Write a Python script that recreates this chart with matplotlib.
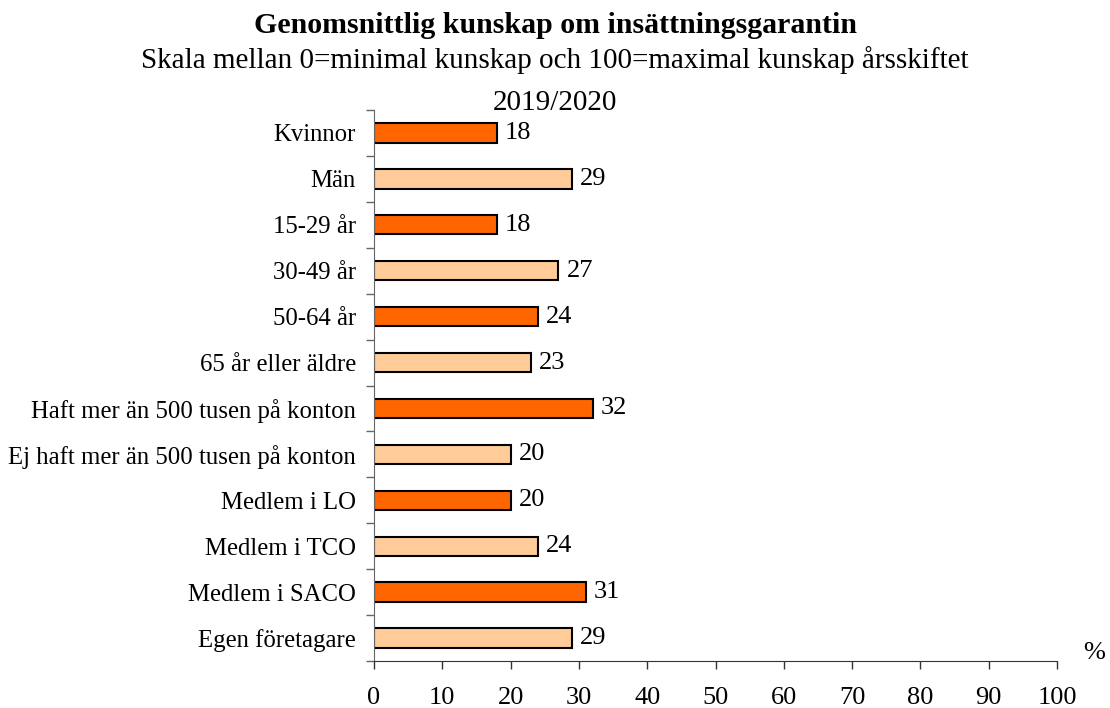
import numpy as np
import matplotlib.pyplot as plt

# data
categories = ["Kvinnor", "Män", "15-29 år", "30-49 år", "50-64 år", "65 år eller äldre",
              "Haft mer än 500 tusen på konton", "Ej haft mer än 500 tusen på konton",
              "Medlem i LO", "Medlem i TCO", "Medlem i SACO", "Egen företagare"]
values = [18, 29, 18, 27, 24, 23, 32, 20, 20, 24, 31, 29]
xticks = list(range(0, 101, 10))

plt.rcParams['font.family'] = ['Liberation Serif', 'DejaVu Serif']

fig = plt.figure(figsize=(11.1, 7.08), dpi=100)
ax = fig.add_axes([374 / 1110, 47 / 708, (1057 - 374) / 1110, (661 - 110) / 708])

n = len(categories)
y = np.arange(n)
colors = ["#FF6600" if i % 2 == 0 else "#FFCC99" for i in range(n)]
ax.barh(y, values, height=0.42, color=colors, edgecolor="black", linewidth=1.5)

for yi, v in zip(y, values):
    ax.text(v + 1.2, yi, str(v), va="center", ha="left", fontsize=19)

ax.set_xlim(0, 100)
ax.set_ylim(n - 0.5, -0.5)
ax.set_xticks(xticks)
ax.set_xticklabels([str(t) for t in xticks], fontsize=19)
ax.set_yticks(y)
ax.set_yticklabels(categories, fontsize=17.8)
ax.set_yticks(np.arange(-0.5, n, 1), minor=True)

ax.tick_params(axis="y", which="major", length=0, pad=13)
ax.tick_params(axis="y", which="minor", length=6, width=1, color="#666666", direction="out")
ax.tick_params(axis="x", length=6, width=1, color="#333333", direction="out", pad=13)

for s in ["top", "right"]:
    ax.spines[s].set_visible(False)
ax.spines["left"].set_color("#666666")
ax.spines["bottom"].set_color("#333333")

ax.text(1.054, 0.014, "%", transform=ax.transAxes, fontsize=19, ha="center", va="center")

fig.text(0.5, 1 - 33 / 708, "Genomsnittlig kunskap om insättningsgarantin",
         ha="center", va="baseline", fontsize=21.5, fontweight="bold")
fig.text(0.5, 1 - 68 / 708, "Skala mellan 0=minimal kunskap och 100=maximal kunskap årsskiftet",
         ha="center", va="baseline", fontsize=21)
fig.text(0.5, 1 - 110 / 708, "2019/2020", ha="center", va="baseline", fontsize=21)

fig.savefig("out.png", dpi=100)
